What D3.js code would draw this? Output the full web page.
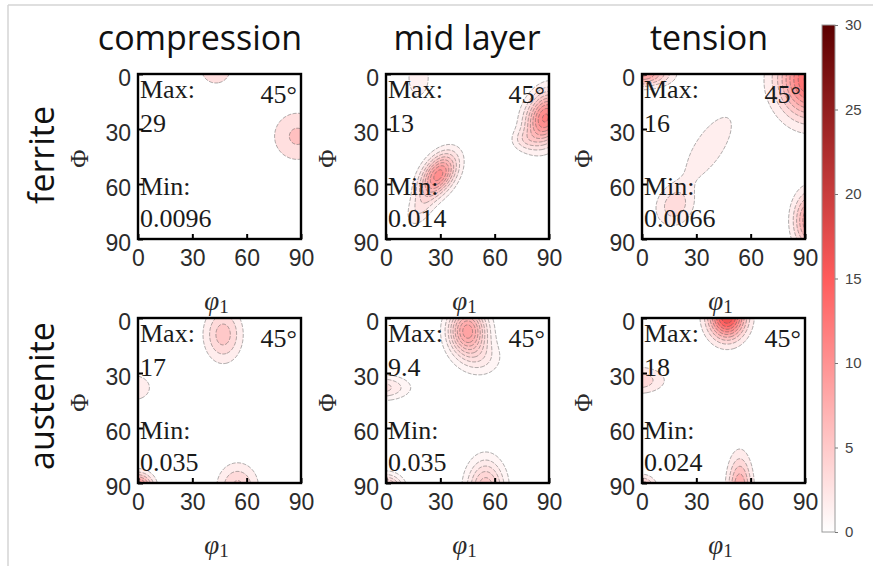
<!DOCTYPE html>
<html>
<head>
<meta charset="utf-8">
<script src="https://cdn.jsdelivr.net/npm/d3@7"></script>
<style>
  body { margin: 0; background: #fff; }
  svg { display: block; }
</style>
</head>
<body>
<script>
var W = 873, H = 566;

// labels and values
var phases = ["ferrite", "austenite"];
var conditions = ["compression", "mid layer", "tension"];
var axisTicks = [0, 30, 60, 90];
var barTicks = [0, 5, 10, 15, 20, 25, 30];
var maxLabels = ["29", "13", "16", "17", "9.4", "18"];
var minLabels = ["0.0096", "0.014", "0.0066", "0.035", "0.035", "0.024"];
var maxValues = [29, 13, 16, 17, 9.4, 18];
var sectionLabel = "45°";

// texture peaks per section: [phi1, Phi, height, spread, spread across, axis angle]
var ferriteCompression = [
  [43, -3, 5.5, 7, 7, 0],
  [88, 34, 6.4, 10, 10, 0]
];
var ferriteMid = [
  [29, 55, 11, 9, 5.5, -55],
  [19, 73, 2.5, 8, 4.5, -60],
  [88, 24, 12, 10, 7, 109],
  [76, 36, 2, 5, 4, 0],
  [18, 2, 2.6, 4.5, 8, 0]
];
var ferriteTension = [
  [0, 0, 10, 10, 4.5, 0],
  [37, 40, 2.8, 18, 7, 124],
  [18, 72, 4, 8, 7, 124],
  [93, 3, 15, 12, 14, 0],
  [93, 80, 10, 6.3, 10.5, 0]
];
var austeniteCompression = [
  [47, 9, 6, 7, 10, 0],
  [-2, 38, 2.6, 9, 7, 0],
  [0, 92, 12, 5.5, 5, 0],
  [55, 92, 5.5, 7.5, 8.5, 0]
];
var austeniteMid = [
  [45, 7, 9, 7, 9, 0],
  [53, 22, 1.8, 8, 7, 0],
  [-2, 38, 3.2, 10, 4.5, 0],
  [0, 93, 6, 6, 5, 0],
  [55, 93, 5.5, 7, 10.6, 0]
];
var austeniteTension = [
  [47, -1, 18, 7, 8.5, 0],
  [-2, 34, 5, 10, 5, 0],
  [0, 93, 8, 5, 4.5, 0],
  [54, 93, 9, 4.5, 12, 0]
];
var panelPeaks = [ferriteCompression, ferriteMid, ferriteTension,
                  austeniteCompression, austeniteMid, austeniteTension];

// layout
var colX = [138, 386, 642];
var rowY = [74, 318];
var pw = 163, ph = 165;
var titleX = [200, 467, 709];
var rowLabelY = [155, 396];
var N = 180;

var color = d3.scaleLinear().domain([0, 15, 30]).range(["#ffffff", "#ff5c5c", "#5c0000"]);

var svg = d3.select("body").append("svg").attr("width", W).attr("height", H);

// light frame
svg.append("line").attr("x1", 8).attr("y1", 5).attr("x2", W).attr("y2", 5)
   .attr("stroke", "#d4d4d4").attr("stroke-width", 1.5);
svg.append("line").attr("x1", 8).attr("y1", 5).attr("x2", 8).attr("y2", H)
   .attr("stroke", "#d4d4d4").attr("stroke-width", 1.5);

svg.selectAll("text.title")
   .data(conditions)
   .enter()
   .append("text")
   .attr("class", "title")
   .attr("x", function(d, i){ return titleX[i]; })
   .attr("y", 50)
   .attr("text-anchor", "middle")
   .attr("font-family", "Open Sans")
   .attr("font-size", 34)
   .attr("fill", "#111")
   .text(function(d){ return d; });

svg.selectAll("text.phase")
   .data(phases)
   .enter()
   .append("text")
   .attr("class", "phase")
   .attr("transform", function(d, i){ return "translate(54," + rowLabelY[i] + ") rotate(-90)"; })
   .attr("text-anchor", "middle")
   .attr("font-family", "Open Sans")
   .attr("font-size", 34)
   .attr("fill", "#111")
   .text(function(d){ return d; });

function field(peaks) {
  var vals = new Float64Array(N * N);
  for (var j = 0; j < N; j++) {
    for (var i = 0; i < N; i++) {
      var p1 = (i + 0.5) * 90 / N, P = (j + 0.5) * 90 / N, v = 0;
      peaks.forEach(function(k){
        var t = k[5] * Math.PI / 180, du = p1 - k[0], dv = P - k[1];
        var u = du * Math.cos(t) + dv * Math.sin(t);
        var w = -du * Math.sin(t) + dv * Math.cos(t);
        v += k[2] * Math.exp(-(u * u / (2 * k[3] * k[3]) + w * w / (2 * k[4] * k[4])));
      });
      vals[j * N + i] = v;
    }
  }
  return vals;
}

var x = d3.scaleLinear().domain([0, 90]).range([0, pw]);
var y = d3.scaleLinear().domain([0, 90]).range([0, ph]);

panelPeaks.forEach(function(peaks, p){
  var r = Math.floor(p / 3), c = p % 3;
  var g = svg.append("g").attr("transform", "translate(" + colX[c] + "," + rowY[r] + ")");

  g.append("clipPath").attr("id", "clip" + p)
   .append("rect").attr("width", pw).attr("height", ph);

  var step = maxValues[p] / 10;
  var levels = d3.range(1, 11).map(function(k){ return k * step; });
  var contours = d3.contours().size([N, N]).thresholds(levels)(field(peaks));
  var path = d3.geoPath(d3.geoTransform({
    point: function(px, py){ this.stream.point(x(px * 90 / N), y(py * 90 / N)); }
  }));

  var cg = g.append("g").attr("clip-path", "url(#clip" + p + ")");
  cg.selectAll("path")
    .data(contours)
    .enter()
    .append("path")
    .attr("d", path)
    .attr("fill", function(d){ return color(d.value); })
    .attr("stroke", "#555")
    .attr("stroke-opacity", 0.7)
    .attr("stroke-width", 0.7)
    .attr("stroke-dasharray", "4,1.5");

  var serif = "Liberation Serif";
  var notes = [
    {t: "Max:", x: 2, y: 24, a: "start"},
    {t: maxLabels[p], x: 2, y: 58, a: "start"},
    {t: "Min:", x: 2, y: 121, a: "start"},
    {t: minLabels[p], x: 2, y: 153, a: "start"},
    {t: sectionLabel, x: pw - 4, y: 29, a: "end"}
  ];
  g.selectAll("text.note")
   .data(notes)
   .enter()
   .append("text")
   .attr("class", "note")
   .attr("x", function(d){ return d.x; })
   .attr("y", function(d){ return d.y; })
   .attr("text-anchor", function(d){ return d.a; })
   .attr("font-family", serif)
   .attr("font-size", 26)
   .attr("fill", "#1a1a1a")
   .text(function(d){ return d.t; });

  var yAxis = g.append("g")
    .call(d3.axisLeft(y).tickValues(axisTicks).tickSizeInner(-5).tickSizeOuter(0).tickPadding(7));
  var xAxis = g.append("g").attr("transform", "translate(0," + ph + ")")
    .call(d3.axisBottom(x).tickValues(axisTicks).tickSizeInner(-5).tickSizeOuter(0).tickPadding(11));
  [xAxis, yAxis].forEach(function(a){
    a.select(".domain").remove();
    a.attr("font-family", "Liberation Sans").attr("font-size", 23);
    a.selectAll("line").attr("stroke", "#000").attr("stroke-width", 2);
    a.selectAll("text").attr("fill", "#2b2b2b");
  });
  yAxis.selectAll("text").attr("dy", "0.5em");

  g.append("rect").attr("width", pw).attr("height", ph)
   .attr("fill", "none").attr("stroke", "#000").attr("stroke-width", 2.4);

  g.append("text")
   .attr("transform", "translate(-59," + (ph / 2 + 2) + ") rotate(-90)")
   .attr("text-anchor", "middle")
   .attr("dominant-baseline", "central")
   .attr("font-family", serif)
   .attr("font-size", 25)
   .attr("fill", "#2b2b2b")
   .text("Φ");

  var lab = g.append("text")
   .attr("x", pw / 2 - 3)
   .attr("y", ph + 62)
   .attr("text-anchor", "middle")
   .attr("dominant-baseline", "central")
   .attr("font-family", serif)
   .attr("fill", "#2b2b2b");
  lab.append("tspan").attr("font-style", "italic").attr("font-size", 27).text("φ");
  lab.append("tspan").attr("font-size", 19).attr("dy", 5).text("1");
});

// colour bar
var barX = 822, barW = 13;
var bar = d3.scaleLinear().domain([0, 30]).range([532, 25]);
var grad = svg.append("defs").append("linearGradient")
  .attr("id", "grad").attr("x1", 0).attr("y1", 1).attr("x2", 0).attr("y2", 0);
grad.selectAll("stop")
  .data(d3.range(0, 31, 2.5))
  .enter()
  .append("stop")
  .attr("offset", function(d){ return d / 30; })
  .attr("stop-color", function(d){ return color(d); });
svg.append("rect")
   .attr("x", barX).attr("y", bar(30)).attr("width", barW).attr("height", bar(0) - bar(30))
   .attr("fill", "url(#grad)").attr("stroke", "#9a9a9a").attr("stroke-width", 1);
var barAxis = svg.append("g").attr("transform", "translate(" + (barX + barW) + ",0)")
  .call(d3.axisRight(bar).tickValues(barTicks).tickSizeInner(3).tickSizeOuter(0).tickPadding(7));
barAxis.select(".domain").remove();
barAxis.attr("font-family", "Liberation Sans").attr("font-size", 15);
barAxis.selectAll("line").attr("stroke", "#777");
barAxis.selectAll("text").attr("fill", "#444");
</script>
</body>
</html>
